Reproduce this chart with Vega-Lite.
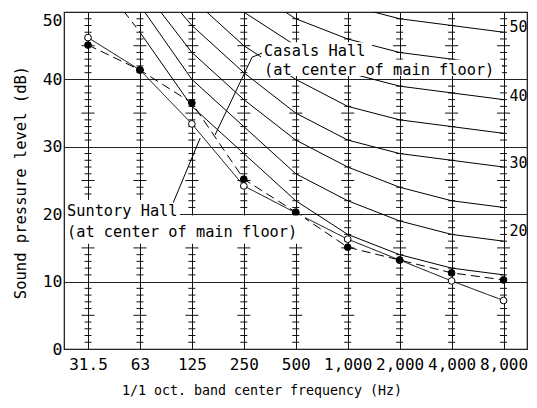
{
  "$schema": "https://vega.github.io/schema/vega-lite/v6.json",
  "width": 463,
  "height": 337,
  "autosize": {"type": "none"},
  "padding": {"left": 64, "top": 12, "right": 10, "bottom": 59},
  "background": "white",
  "config": {
    "view": {"stroke": "#111", "strokeWidth": 1.2},
    "font": "DejaVu Sans Mono"
  },
  "datasets": {
    "minor": [{"band": [0, 1, 2, 3, 4, 5, 6, 7, 8], "level": [1, 2, 3, 4, 6, 7, 8, 9, 11, 12, 13, 14, 16, 17, 18, 19, 21, 22, 23, 24, 26, 27, 28, 29, 31, 32, 33, 34, 36, 37, 38, 39, 41, 42, 43, 44, 46, 47, 48, 49]}],
    "major": [{"band": [0, 1, 2, 3, 4, 5, 6, 7, 8], "level": [5, 15, 25, 35, 45]}],
    "nc": [
      {"nc": 15, "band": 1, "level": 47}, {"nc": 15, "band": 2, "level": 36}, {"nc": 15, "band": 3, "level": 29}, {"nc": 15, "band": 4, "level": 22}, {"nc": 15, "band": 5, "level": 17}, {"nc": 15, "band": 6, "level": 14}, {"nc": 15, "band": 7, "level": 12}, {"nc": 15, "band": 8, "level": 11},
      {"nc": 20, "band": 1, "level": 51}, {"nc": 20, "band": 2, "level": 40}, {"nc": 20, "band": 3, "level": 33}, {"nc": 20, "band": 4, "level": 26}, {"nc": 20, "band": 5, "level": 22}, {"nc": 20, "band": 6, "level": 19}, {"nc": 20, "band": 7, "level": 17}, {"nc": 20, "band": 8, "level": 16},
      {"nc": 25, "band": 1, "level": 54}, {"nc": 25, "band": 2, "level": 44}, {"nc": 25, "band": 3, "level": 37}, {"nc": 25, "band": 4, "level": 31}, {"nc": 25, "band": 5, "level": 27}, {"nc": 25, "band": 6, "level": 24}, {"nc": 25, "band": 7, "level": 22}, {"nc": 25, "band": 8, "level": 21},
      {"nc": 30, "band": 1, "level": 57}, {"nc": 30, "band": 2, "level": 48}, {"nc": 30, "band": 3, "level": 41}, {"nc": 30, "band": 4, "level": 35}, {"nc": 30, "band": 5, "level": 31}, {"nc": 30, "band": 6, "level": 29}, {"nc": 30, "band": 7, "level": 28}, {"nc": 30, "band": 8, "level": 27},
      {"nc": 35, "band": 1, "level": 60}, {"nc": 35, "band": 2, "level": 52}, {"nc": 35, "band": 3, "level": 45}, {"nc": 35, "band": 4, "level": 40}, {"nc": 35, "band": 5, "level": 36}, {"nc": 35, "band": 6, "level": 34}, {"nc": 35, "band": 7, "level": 33}, {"nc": 35, "band": 8, "level": 32},
      {"nc": 40, "band": 1, "level": 64}, {"nc": 40, "band": 2, "level": 56}, {"nc": 40, "band": 3, "level": 50}, {"nc": 40, "band": 4, "level": 45}, {"nc": 40, "band": 5, "level": 41}, {"nc": 40, "band": 6, "level": 39}, {"nc": 40, "band": 7, "level": 38}, {"nc": 40, "band": 8, "level": 37},
      {"nc": 45, "band": 1, "level": 67}, {"nc": 45, "band": 2, "level": 60}, {"nc": 45, "band": 3, "level": 54}, {"nc": 45, "band": 4, "level": 49}, {"nc": 45, "band": 5, "level": 46}, {"nc": 45, "band": 6, "level": 44}, {"nc": 45, "band": 7, "level": 43}, {"nc": 45, "band": 8, "level": 42},
      {"nc": 50, "band": 1, "level": 71}, {"nc": 50, "band": 2, "level": 64}, {"nc": 50, "band": 3, "level": 58}, {"nc": 50, "band": 4, "level": 54}, {"nc": 50, "band": 5, "level": 51}, {"nc": 50, "band": 6, "level": 49}, {"nc": 50, "band": 7, "level": 48}, {"nc": 50, "band": 8, "level": 47}
    ],
    "ncExt": [{"band": 0, "level": 57}, {"band": 1, "level": 47}],
    "halls": [
      {"hall": "Suntory", "band": 0, "level": 46.2}, {"hall": "Suntory", "band": 1, "level": 41.4}, {"hall": "Suntory", "band": 2, "level": 33.4}, {"hall": "Suntory", "band": 3, "level": 24.2}, {"hall": "Suntory", "band": 4, "level": 20.2}, {"hall": "Suntory", "band": 5, "level": 16.3}, {"hall": "Suntory", "band": 6, "level": 13.2}, {"hall": "Suntory", "band": 7, "level": 10.1}, {"hall": "Suntory", "band": 8, "level": 7.2},
      {"hall": "Casals", "band": 0, "level": 45.1}, {"hall": "Casals", "band": 1, "level": 41.4}, {"hall": "Casals", "band": 2, "level": 36.5}, {"hall": "Casals", "band": 3, "level": 25.2}, {"hall": "Casals", "band": 4, "level": 20.3}, {"hall": "Casals", "band": 5, "level": 15.1}, {"hall": "Casals", "band": 6, "level": 13.2}, {"hall": "Casals", "band": 7, "level": 11.3}, {"hall": "Casals", "band": 8, "level": 10.25}
    ],
    "boxes": [
      {"band": -0.44, "band2": 1.77, "level": 22.1, "level2": 19.8},
      {"band": -0.44, "band2": 4.18, "level": 19.8, "level2": 15.6},
      {"band": 3.33, "band2": 5.47, "level": 45.5, "level2": 42.8},
      {"band": 3.33, "band2": 7.97, "level": 42.9, "level2": 40.5}
    ],
    "labels": [
      {"text": "Suntory Hall", "band": -0.404, "level": 20.5},
      {"text": "(at center of main floor)", "band": -0.404, "level": 17.3},
      {"text": "Casals Hall", "band": 3.39, "level": 44.15},
      {"text": "(at center of main floor)", "band": 3.39, "level": 41.45}
    ],
    "leaders": [
      {"band": 3.35, "level": 43.9, "band2": 3.16, "level2": 43.3},
      {"band": 3.16, "level": 43.3, "band2": 2.445, "level2": 31.75},
      {"band": 1.64, "level": 21.7, "band2": 2.16, "level2": 31.3}
    ],
    "ncLabels": [
      {"text": "50", "band": 8, "level": 47.8},
      {"text": "40", "band": 8, "level": 37.5},
      {"text": "30", "band": 8, "level": 27.6},
      {"text": "20", "band": 8, "level": 17.5}
    ]
  },
  "encoding": {
    "x": {
      "field": "band", "type": "quantitative",
      "scale": {"domain": [-0.462, 8.452], "nice": false, "zero": false},
      "axis": {
        "values": [0, 1, 2, 3, 4, 5, 6, 7, 8],
        "labelExpr": "['31.5','63','125','250','500','1,000','2,000','4,000','8,000'][datum.value]",
        "grid": true, "gridColor": "#111", "gridOpacity": 1, "gridWidth": 1,
        "ticks": false, "domain": false,
        "labelFont": "DejaVu Sans Mono", "labelFontSize": 16, "labelColor": "#000",
        "labelPadding": 7, "labelOverlap": false,
        "title": "1/1 oct. band center frequency (Hz)",
        "titleFont": "DejaVu Sans Mono", "titleFontSize": 13.3, "titleFontWeight": "normal", "titleColor": "#000",
        "titleX": 197.5, "titleY": 34
      }
    },
    "y": {
      "field": "level", "type": "quantitative",
      "scale": {"domain": [0, 50], "nice": false, "zero": false},
      "axis": {
        "values": [0, 10, 20, 30, 40, 50],
        "grid": true, "gridColor": "#222", "gridOpacity": 1, "gridWidth": 1,
        "ticks": false, "domain": false,
        "labelFont": "DejaVu Sans Mono", "labelFontSize": 16.5, "labelColor": "#000",
        "labelPadding": 2,
        "labelBaseline": {"condition": {"test": "datum.value == 50", "value": "top"}, "value": "middle"},
        "title": "Sound pressure level (dB)",
        "titleFont": "DejaVu Sans Mono", "titleFontSize": 15.5, "titleFontWeight": "normal", "titleColor": "#000",
        "titleX": -36, "titleY": 170
      }
    }
  },
  "layer": [
    {
      "data": {"name": "minor"},
      "transform": [{"flatten": ["level"]}, {"flatten": ["band"]}],
      "mark": {"type": "tick", "orient": "horizontal", "color": "#111", "size": 7, "thickness": 1, "opacity": 1}
    },
    {
      "data": {"name": "major"},
      "transform": [{"flatten": ["level"]}, {"flatten": ["band"]}],
      "mark": {"type": "tick", "orient": "horizontal", "color": "#111", "size": 13, "thickness": 1, "opacity": 1}
    },
    {
      "data": {"name": "nc"},
      "mark": {"type": "line", "clip": true, "color": "#000", "strokeWidth": 1},
      "encoding": {"detail": {"field": "nc", "type": "nominal"}}
    },
    {
      "data": {"name": "ncExt"},
      "mark": {"type": "line", "clip": true, "color": "#000", "strokeWidth": 1, "strokeDash": [7, 5]},
      "encoding": {}
    },
    {
      "data": {"name": "halls"},
      "mark": {"type": "line", "color": "#000", "strokeWidth": 1},
      "encoding": {
        "detail": {"field": "hall", "type": "nominal"},
        "strokeDash": {"field": "hall", "type": "nominal", "scale": {"domain": ["Suntory", "Casals"], "range": [[1, 0], [9, 5]]}, "legend": null}
      }
    },
    {
      "data": {"name": "halls"},
      "mark": {"type": "point", "shape": "circle", "size": 45, "stroke": "#000", "strokeWidth": 1, "opacity": 1, "filled": true},
      "encoding": {
        "fill": {"field": "hall", "type": "nominal", "scale": {"domain": ["Suntory", "Casals"], "range": ["#ffffff", "#000000"]}, "legend": null}
      }
    },
    {
      "data": {"name": "boxes"},
      "mark": {"type": "rect", "color": "#fff", "opacity": 1},
      "encoding": {
        "x2": {"field": "band2"},
        "y2": {"field": "level2"}
      }
    },
    {
      "data": {"name": "leaders"},
      "mark": {"type": "rule", "color": "#000", "strokeWidth": 1},
      "encoding": {
        "x2": {"field": "band2"},
        "y2": {"field": "level2"}
      }
    },
    {
      "data": {"name": "labels"},
      "mark": {"type": "text", "align": "left", "baseline": "middle", "font": "DejaVu Sans Mono", "fontSize": 15.3, "color": "#000"},
      "encoding": {"text": {"field": "text"}}
    },
    {
      "data": {"name": "ncLabels"},
      "mark": {"type": "text", "align": "left", "baseline": "middle", "dx": 6, "font": "DejaVu Sans Mono", "fontSize": 15, "color": "#000"},
      "encoding": {"text": {"field": "text"}}
    }
  ]
}
